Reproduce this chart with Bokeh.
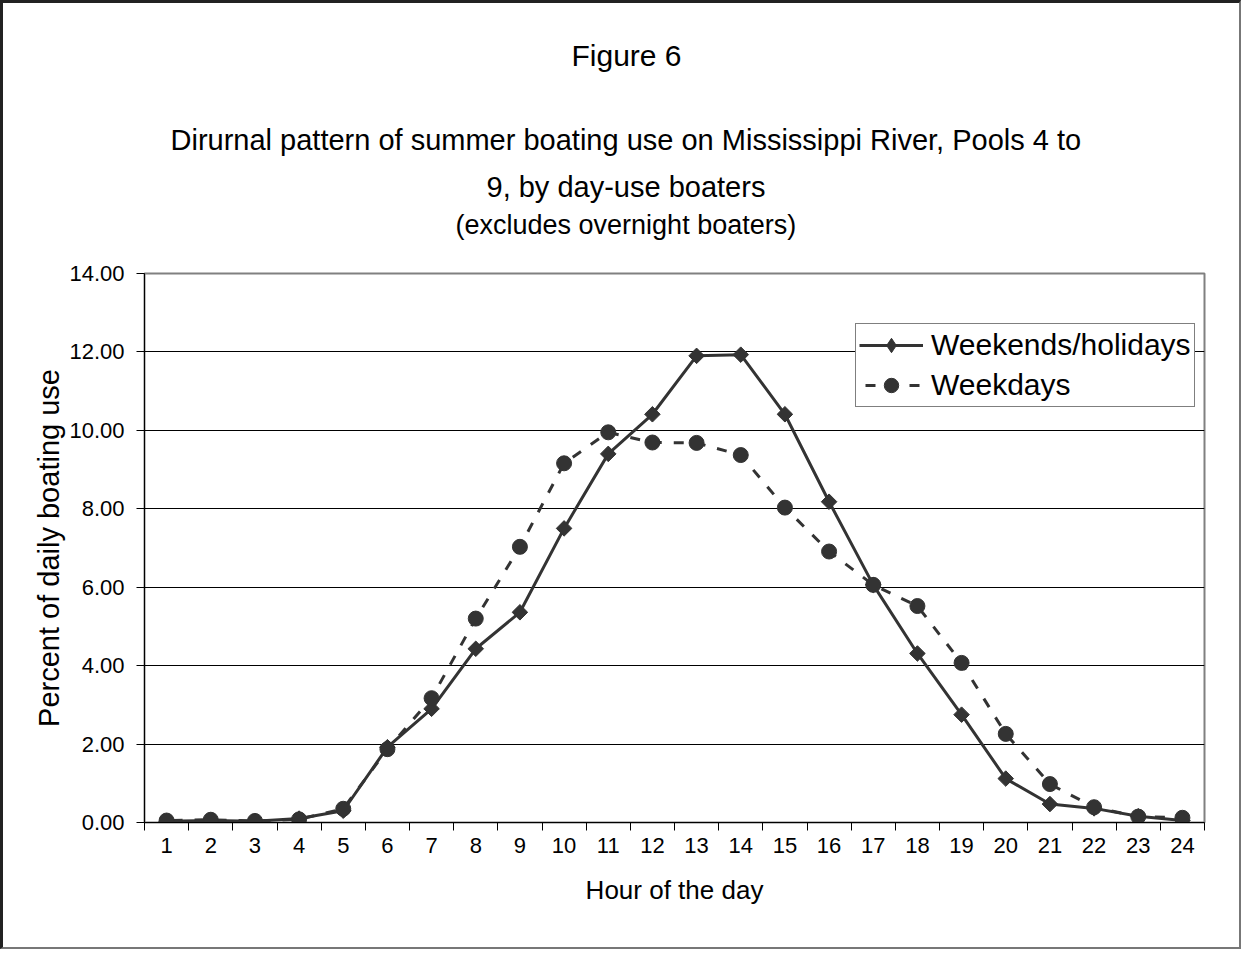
from bokeh.plotting import figure
from bokeh.models import FixedTicker, Legend, LegendItem, NumeralTickFormatter, Range1d, Title
from bokeh.embed import file_html
from bokeh.resources import INLINE
import math

hours = list(range(1, 25))
hour_labels = [str(h) for h in hours]
weekends = [0.03, 0.05, 0.03, 0.10, 0.30, 1.92, 2.90, 4.43, 5.36, 7.50, 9.40, 10.41,
            11.90, 11.93, 10.41, 8.18, 6.06, 4.31, 2.75, 1.12, 0.47, 0.36, 0.16, 0.05]
weekdays = [0.05, 0.07, 0.04, 0.08, 0.35, 1.87, 3.17, 5.20, 7.03, 9.16, 9.95, 9.69,
            9.68, 9.37, 8.03, 6.91, 6.06, 5.52, 4.07, 2.26, 0.98, 0.39, 0.15, 0.12]
y_ticks = [0, 2, 4, 6, 8, 10, 12, 14]

FONT = "Liberation Sans"
DARK = "#333333"

p = figure(width=1241, height=949, output_backend="svg", toolbar_location=None,
           x_range=Range1d(0.5, 24.5), y_range=Range1d(0, 14),
           min_border_left=141, min_border_right=40, min_border_top=270, min_border_bottom=130)
p.background_fill_color = "white"
p.border_fill_color = "white"
p.outline_line_color = "#808080"
p.outline_line_width = 2
p.styles = {"border-top": "3px solid #222222", "border-left": "3px solid #222222",
            "border-right": "2px solid #777777", "border-bottom": "2px solid #777777"}

# grid
p.xgrid.grid_line_color = None
p.ygrid.ticker = FixedTicker(ticks=y_ticks)
p.ygrid.grid_line_color = "black"
p.ygrid.grid_line_width = 1

# x axis
xa = p.xaxis[0]
xa.ticker = FixedTicker(ticks=hours, minor_ticks=[h + 0.5 for h in range(0, 25)])
xa.major_label_overrides = {h: lab for h, lab in zip(hours, hour_labels)}
xa.major_tick_line_color = None
xa.minor_tick_line_color = "black"
xa.minor_tick_in = 0
xa.minor_tick_out = 8
xa.axis_line_color = "black"
xa.major_label_standoff = 7
xa.major_label_text_font = FONT
xa.major_label_text_font_size = "22px"
xa.major_label_text_color = "black"
xa.axis_label = "Hour of the day"
xa.axis_label_text_font = FONT
xa.axis_label_text_font_size = "26px"
xa.axis_label_text_font_style = "normal"
xa.axis_label_standoff = 19
xa.axis_label_text_color = "black"

# y axis
ya = p.yaxis[0]
ya.ticker = FixedTicker(ticks=y_ticks)
ya.formatter = NumeralTickFormatter(format="0.00")
ya.major_tick_in = 0
ya.major_tick_out = 8
ya.minor_tick_line_color = None
ya.axis_line_color = "black"
ya.major_label_standoff = 12
ya.major_label_text_font = FONT
ya.major_label_text_font_size = "22px"
ya.major_label_text_color = "black"
ya.axis_label = "Percent of daily boating use"
ya.axis_label_text_font = FONT
ya.axis_label_text_font_size = "29px"
ya.axis_label_text_font_style = "normal"
ya.axis_label_standoff = 1
ya.axis_label_text_color = "black"

# series
l1 = p.line(hours, weekends, line_color=DARK, line_width=3)
m1 = p.scatter(hours, weekends, marker="square", angle=math.pi / 4, size=11,
               fill_color=DARK, line_color=DARK)
# legend key marker (placed outside the visible range, only used for the legend)
m1_key = p.scatter([-5], [-5], marker="diamond", size=16, fill_color=DARK, line_color=DARK)
l2 = p.line(hours, weekdays, line_color=DARK, line_width=3, line_dash="10 12", line_dash_offset=-6)
m2 = p.scatter(hours, weekdays, marker="circle", size=15, fill_color=DARK, line_color=DARK)

legend = Legend(items=[LegendItem(label="Weekends/holidays", renderers=[l1, m1_key]),
                       LegendItem(label="Weekdays", renderers=[l2, m2])],
                location=(711, 415))
legend.label_text_font = FONT
legend.label_text_font_size = "30px"
legend.label_text_color = "black"
legend.glyph_width = 64
legend.glyph_height = 36
legend.label_standoff = 8
legend.spacing = 4
legend.padding = 3
legend.margin = 0
legend.border_line_color = "black"
legend.border_line_width = 1
legend.background_fill_color = "white"
legend.background_fill_alpha = 1
p.add_layout(legend, "center")

# blank spacer between plot frame and the titles
p.add_layout(Title(text=" ", text_font_size="1px", standoff=22), "above")

# titles, listed from the one nearest the plot upwards: (text, size, standoff, left offset)
titles = [("(excludes overnight boaters)", "27px", 18, 311),
          ("9, by day-use boaters", "29px", -8, 342),
          ("Dirurnal pattern of summer boating use on Mississippi River, Pools 4 to", "29px", 33, 26),
          ("Figure 6", "30px", 67, 427)]
for txt, fs, so, off in titles:
    p.add_layout(Title(text=txt, align="left", offset=off, text_font=FONT, text_font_size=fs,
                       text_font_style="normal", text_color="black", standoff=so), "above")

open("out.html", "w").write(file_html(p, INLINE))
